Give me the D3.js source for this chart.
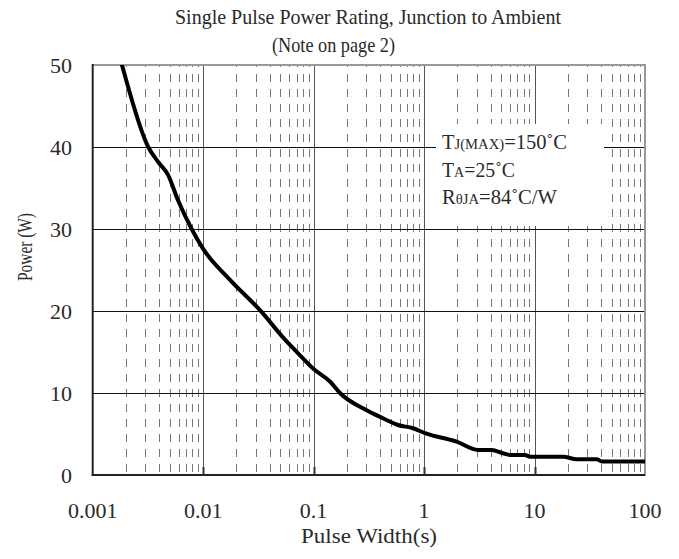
<!DOCTYPE html>
<html><head><meta charset="utf-8">
<script src="https://cdn.jsdelivr.net/npm/d3@7"></script>
<style>body{margin:0;background:#fff}svg{display:block}text{font-family:"Liberation Serif","Times New Roman",serif;fill:#2a2a2a}</style>
</head><body><div id="chart"></div>
<script>
const pulseWidth = [0.0016,0.00184,0.00318,0.0039,0.00481,0.00592,0.00787,0.00997,0.0175,0.0327,0.0551,0.0753,0.1007,0.1406,0.173,0.302,0.413,0.58,0.794,1.02,1.97,3.08,4.09,5.18,6.0,8.2,9.1,18.1,24.1,36.6,40.6,100];
const power = [53,50,40,38.2,36.6,33.5,30,27.6,23.8,20.1,16.5,14.6,12.9,11.4,10.0,7.9,7.0,6.1,5.7,5.1,4.06,3.05,3.05,2.65,2.44,2.44,2.23,2.23,1.91,1.91,1.65,1.65];
const xTicks = [0.001,0.01,0.1,1,10,100];
const xTickLabels = ["0.001","0.01","0.1","1","10","100"];
const yTicks = [0,10,20,30,40,50];
const titleLines = ["Single Pulse Power Rating, Junction to Ambient","(Note on page 2)"];
const xTitle = "Pulse Width(s)";
const yTitle = "Power (W)";

const W=679,H=559;
const L=92.7,R=645,T=65,B=475;
const svg=d3.select("#chart").append("svg").attr("width",W).attr("height",H);
const x=d3.scaleLog().domain([0.001,100]).range([L,R]);
const y=d3.scaleLinear().domain([0,50]).range([B,T]);

// minor dashed grid
const minors=[];
for(let d=0.001; d<100; d*=10){ for(let k=2;k<=9;k++) minors.push(+(d*k).toPrecision(3)); }
svg.append("g").selectAll("line").data(minors).join("line")
  .attr("x1",d=>Math.round(x(d))+0.5).attr("x2",d=>Math.round(x(d))+0.5)
  .attr("y1",B-1).attr("y2",T)
  .attr("stroke","#777").attr("stroke-width",1).attr("stroke-dasharray","8,7").attr("stroke-dashoffset",-2);
// major vertical
svg.append("g").selectAll("line").data(xTicks.slice(1,-1)).join("line")
  .attr("x1",d=>Math.round(x(d))+0.5).attr("x2",d=>Math.round(x(d))+0.5)
  .attr("y1",B).attr("y2",T).attr("stroke","#555").attr("stroke-width",1);
// inner bottom ticks at decades
svg.append("g").selectAll("line").data(xTicks.slice(1,-1)).join("line")
  .attr("x1",d=>Math.round(x(d))+0.5).attr("x2",d=>Math.round(x(d))+0.5)
  .attr("y1",B).attr("y2",B-8).attr("stroke","#333").attr("stroke-width",2);
// horizontal grid
svg.append("g").selectAll("line").data(yTicks.slice(1,-1)).join("line")
  .attr("x1",L).attr("x2",R).attr("y1",d=>Math.round(y(d))+0.5).attr("y2",d=>Math.round(y(d))+0.5)
  .attr("stroke","#111").attr("stroke-width",1);

// legend background
svg.append("rect").attr("x",436).attr("y",124).attr("width",168).attr("height",102).attr("fill","#fff");

// borders
svg.append("line").attr("x1",L).attr("x2",R).attr("y1",T).attr("y2",T).attr("stroke","#999").attr("stroke-width",2);
svg.append("line").attr("x1",R).attr("x2",R).attr("y1",T-1).attr("y2",B+1).attr("stroke","#999").attr("stroke-width",2);
svg.append("line").attr("x1",L).attr("x2",L).attr("y1",T-1).attr("y2",B+1).attr("stroke","#222").attr("stroke-width",2);
svg.append("line").attr("x1",L-1).attr("x2",R).attr("y1",B).attr("y2",B).attr("stroke","#222").attr("stroke-width",2);

// curve
svg.append("clipPath").attr("id","clip").append("rect").attr("x",L).attr("y",T).attr("width",R-L+3).attr("height",B-T);
const line=d3.line().x((d,i)=>x(pulseWidth[i])).y(d=>y(d)).curve(d3.curveMonotoneX);
svg.append("path").datum(power).attr("d",line).attr("clip-path","url(#clip)")
  .attr("fill","none").attr("stroke","#000").attr("stroke-width",4).attr("stroke-linejoin","round");

// axes labels
svg.append("g").selectAll("text").data(yTicks).join("text")
  .attr("x",72).attr("y",d=>y(d)+7.5).attr("text-anchor","end").attr("font-size",22).text(d=>d);
svg.append("g").selectAll("text").data(xTicks).join("text")
  .attr("x",d=>x(d)).attr("y",518).attr("text-anchor","middle").attr("font-size",22).text((d,i)=>xTickLabels[i]);
svg.append("text").attr("x",369).attr("y",543).attr("text-anchor","middle").attr("font-size",21)
  .attr("textLength",136).attr("lengthAdjust","spacingAndGlyphs").text(xTitle);
svg.append("text").attr("transform","translate(32,247) rotate(-90)").attr("text-anchor","middle").attr("font-size",22)
  .attr("textLength",68).attr("lengthAdjust","spacingAndGlyphs").text(yTitle);

// title
svg.append("text").attr("x",175).attr("y",24).attr("font-size",21)
  .attr("textLength",386).attr("lengthAdjust","spacingAndGlyphs").text(titleLines[0]);
svg.append("text").attr("x",272).attr("y",52).attr("font-size",21)
  .attr("textLength",123).attr("lengthAdjust","spacingAndGlyphs").text(titleLines[1]);

// annotation
const ann=svg.append("g").attr("font-size",21);
const t1=ann.append("text").attr("x",442).attr("y",149).attr("textLength",125).attr("lengthAdjust","spacingAndGlyphs");
t1.append("tspan").text("T"); t1.append("tspan").attr("font-size",15).text("J(MAX)"); t1.append("tspan").text("=150˚C");
const t2=ann.append("text").attr("x",442).attr("y",177).attr("textLength",73).attr("lengthAdjust","spacingAndGlyphs");
t2.append("tspan").text("T"); t2.append("tspan").attr("font-size",15).text("A"); t2.append("tspan").text("=25˚C");
const t3=ann.append("text").attr("x",442).attr("y",204).attr("textLength",115).attr("lengthAdjust","spacingAndGlyphs");
t3.append("tspan").text("R"); t3.append("tspan").attr("font-size",15).text("θJA"); t3.append("tspan").text("=84˚C/W");
</script></body></html>
